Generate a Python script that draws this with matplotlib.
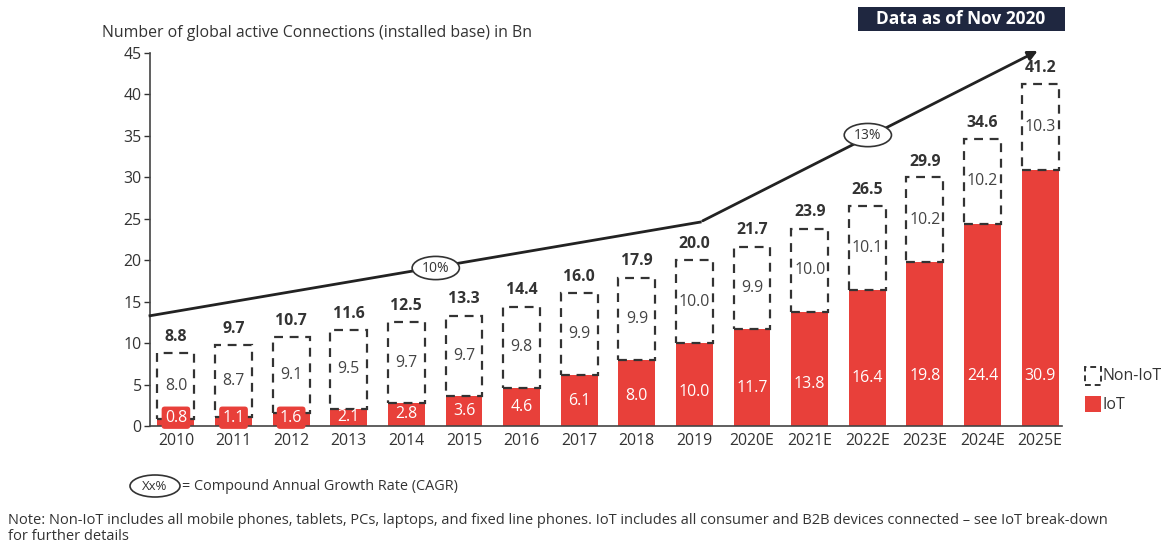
import matplotlib
matplotlib.use("Agg")
import matplotlib.pyplot as plt
from matplotlib.patches import Rectangle, Ellipse

plt.rcParams['font.family'] = ['Open Sans', 'DejaVu Sans']

years = ["2010", "2011", "2012", "2013", "2014", "2015", "2016", "2017", "2018",
         "2019", "2020E", "2021E", "2022E", "2023E", "2024E", "2025E"]
iot = [0.8, 1.1, 1.6, 2.1, 2.8, 3.6, 4.6, 6.1, 8.0, 10.0, 11.7, 13.8, 16.4, 19.8, 24.4, 30.9]
non_iot = [8.0, 8.7, 9.1, 9.5, 9.7, 9.7, 9.8, 9.9, 9.9, 10.0, 9.9, 10.0, 10.1, 10.2, 10.2, 10.3]
totals = [8.8, 9.7, 10.7, 11.6, 12.5, 13.3, 14.4, 16.0, 17.9, 20.0, 21.7, 23.9, 26.5, 29.9, 34.6, 41.2]
cagr_labels = ["10%", "13%"]
yticks = [0, 5, 10, 15, 20, 25, 30, 35, 40, 45]

RED = '#e8403a'
DARK = '#333333'
W, H = 1168, 550
FS = 11.4

fig = plt.figure(figsize=(W / 100, H / 100), dpi=100)
fig.patch.set_facecolor('white')

def px(x, y):
    return (x / W, 1 - y / H)

left, right = 150 / W, 1062 / W
bottom, top = 1 - 426 / H, 1 - 53 / H
ax = fig.add_axes([left, bottom, right - left, top - bottom])

x = list(range(len(years)))
bw = 0.64
ax.bar(x, iot, width=bw, color=RED, edgecolor='none', zorder=2)
ax.bar(x, non_iot, bottom=iot, width=bw, facecolor='none', edgecolor='#333333',
       linewidth=1.6, linestyle=(0, (4, 3)), zorder=3)

for i in x:
    v = iot[i]
    ly = min(max(v / 2, 1.0), 1.4 + 0.27 * v, 6.0)
    if v < 2:
        ax.text(i, ly, f"{v:.1f}", ha='center', va='center', color='white', fontsize=FS,
                zorder=5, bbox=dict(boxstyle='round,pad=0.2', fc=RED, ec='none'))
    else:
        ax.text(i, ly, f"{v:.1f}", ha='center', va='center', color='white', fontsize=FS, zorder=5)
    ax.text(i, iot[i] + non_iot[i] / 2, f"{non_iot[i]:.1f}", ha='center', va='center',
            color='#444444', fontsize=FS, zorder=5,
            bbox=dict(boxstyle='square,pad=0.05', fc='white', ec='none'))
    ax.annotate(f"{totals[i]:.1f}", (i, totals[i]), xytext=(0, 6), textcoords='offset points',
                ha='center', va='bottom', fontsize=FS, fontweight='bold', color=DARK)

ax.set_xlim(-0.45, 15.38)
ax.set_ylim(0, 45)
ax.set_yticks(yticks)
ax.set_xticks(x)
ax.set_xticklabels(years)
ax.tick_params(axis='x', length=0, labelsize=FS, colors=DARK, pad=5)
ax.tick_params(axis='y', length=4, labelsize=FS, colors=DARK, width=1, pad=2)
for s in ['top', 'right']:
    ax.spines[s].set_visible(False)
for s in ['left', 'bottom']:
    ax.spines[s].set_color('#444444')
    ax.spines[s].set_linewidth(1.2)

# CAGR trend line with arrow
ax.plot([-0.45, 9.1], [13.3, 24.6], color='#222222', lw=2, clip_on=False, zorder=4)
ax.annotate('', xy=(15.0, 45.4), xytext=(9.1, 24.6),
            arrowprops=dict(arrowstyle='-|>', color='#222222', lw=2, mutation_scale=14),
            annotation_clip=False, zorder=4)
for (cx, cy), lab in zip([(4.51, 19.06), (12.01, 35.1)], cagr_labels):
    ax.add_patch(Ellipse((cx, cy), 0.82, 2.8, fc='white', ec='#333333', lw=1.2, zorder=6,
                         clip_on=False))
    ax.text(cx, cy, lab, ha='center', va='center', fontsize=10, color=DARK, zorder=7)

# title
fig.text(*px(102, 33), "Number of global active Connections (installed base) in Bn",
         ha='left', va='center', fontsize=FS, color=DARK)

# Data box
fig.patches.append(Rectangle(px(858, 31), 207 / W, 24 / H, transform=fig.transFigure,
                             fc='#1f2740', ec='none'))
fig.text(*px(961, 19), "Data as of Nov 2020", ha='center', va='center', fontsize=12.5,
         fontweight='bold', color='white')

# legend
fig.patches.append(Rectangle(px(1085, 385), 16 / W, 18 / H, transform=fig.transFigure,
                             fc='none', ec='#333333', lw=1.4, ls=(0, (3, 2))))
fig.text(*px(1103, 376), "Non-IoT", ha='left', va='center', fontsize=FS, color=DARK)
fig.patches.append(Rectangle(px(1085, 412), 16 / W, 16 / H, transform=fig.transFigure,
                             fc=RED, ec='none'))
fig.text(*px(1103, 405), "IoT", ha='left', va='center', fontsize=FS, color=DARK)

# CAGR key
fig.patches.append(Ellipse(px(155, 486), 50 / W, 22 / H, transform=fig.transFigure,
                           fc='white', ec='#333333', lw=1.2))
fig.text(*px(155, 486), "Xx%", ha='center', va='center', fontsize=9.5, color=DARK)
fig.text(*px(182, 486), "= Compound Annual Growth Rate (CAGR)", ha='left', va='center',
         fontsize=10.4, color=DARK)

fig.text(*px(8, 520), "Note: Non-IoT includes all mobile phones, tablets, PCs, laptops, and fixed line phones. "
         "IoT includes all consumer and B2B devices connected \u2013 see IoT break-down",
         ha='left', va='center', fontsize=10.5, color=DARK)
fig.text(*px(8, 537), "for further details", ha='left', va='center', fontsize=10.5, color=DARK)

fig.savefig('out.png', dpi=100)
